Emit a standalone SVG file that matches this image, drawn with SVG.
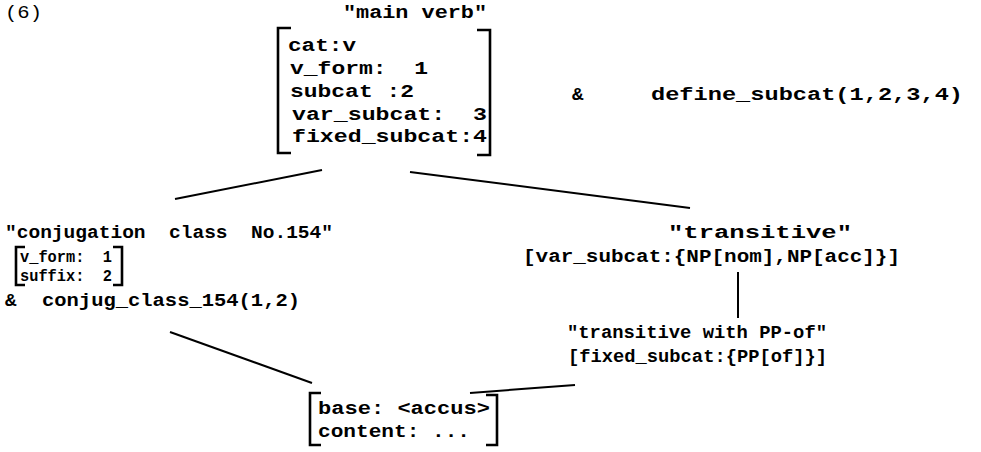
<svg xmlns="http://www.w3.org/2000/svg" width="981" height="452" viewBox="0 0 981 452" xml:space="preserve">
<style>
text{font-family:"Liberation Mono","DejaVu Sans Mono",monospace;font-size:19px;font-weight:bold;fill:#000;white-space:pre}
.reg{font-weight:normal}
.sm{font-size:16px}
.br{fill:none;stroke:#000;stroke-width:2.6}
.ln{fill:none;stroke:#000;stroke-width:2}
</style>
<rect width="981" height="452" fill="#fff"/>
<text class="reg" x="5" y="18" textLength="37" lengthAdjust="spacingAndGlyphs">(6)</text>
<g id="main-verb">
<text x="343" y="18" textLength="144" lengthAdjust="spacingAndGlyphs">"main verb"</text>
<path class="br" d="M291,28 H278 V153 H291 M477,30 H490 V155 H477"/>
<text x="288" y="51" textLength="68" lengthAdjust="spacingAndGlyphs">cat:v</text>
<text x="290" y="74" textLength="138" lengthAdjust="spacingAndGlyphs">v_form:  1</text>
<text x="290" y="97" textLength="124" lengthAdjust="spacingAndGlyphs">subcat :2</text>
<text x="292" y="120" textLength="195" lengthAdjust="spacingAndGlyphs">var_subcat:  3</text>
<text x="292" y="142" textLength="195" lengthAdjust="spacingAndGlyphs">fixed_subcat:4</text>
<text x="572" y="100">&amp;</text>
<text x="651" y="100" textLength="312" lengthAdjust="spacingAndGlyphs">define_subcat(1,2,3,4)</text>
</g>
<g id="conjugation">
<text x="5" y="238" textLength="328" lengthAdjust="spacingAndGlyphs">"conjugation  class  No.154"</text>
<path class="br" d="M25,247 H16 V285 H25 M113,247 H122 V285 H113"/>
<text class="sm" x="20" y="262" textLength="92" lengthAdjust="spacingAndGlyphs">v_form:  1</text>
<text class="sm" x="20" y="281" textLength="92" lengthAdjust="spacingAndGlyphs">suffix:  2</text>
<text x="5" y="306">&amp;</text>
<text x="42" y="306" textLength="258" lengthAdjust="spacingAndGlyphs">conjug_class_154(1,2)</text>
</g>
<g id="transitive">
<text x="668" y="238" textLength="184" lengthAdjust="spacingAndGlyphs">"transitive"</text>
<text x="523" y="262" textLength="377" lengthAdjust="spacingAndGlyphs">[var_subcat:{NP[nom],NP[acc]}]</text>
</g>
<g id="transitive-pp-of">
<text x="567" y="338" textLength="260" lengthAdjust="spacingAndGlyphs">"transitive with PP-of"</text>
<text x="568" y="362" textLength="259" lengthAdjust="spacingAndGlyphs">[fixed_subcat:{PP[of]}]</text>
</g>
<g id="accus">
<path class="br" d="M321,393 H310 V445 H321 M486,395 H497 V445 H486"/>
<text x="318" y="414" textLength="172" lengthAdjust="spacingAndGlyphs">base: &lt;accus&gt;</text>
<text x="318" y="437" textLength="152" lengthAdjust="spacingAndGlyphs">content: ...</text>
</g>
<g id="connectors">
<line class="ln" x1="322" y1="170" x2="175" y2="199"/>
<line class="ln" x1="410" y1="172" x2="690" y2="208"/>
<line class="ln" x1="738" y1="272" x2="738" y2="318" stroke-width="3"/>
<line class="ln" x1="170" y1="332" x2="312" y2="383"/>
<line class="ln" x1="575" y1="385" x2="470" y2="393"/>
</g>
</svg>
